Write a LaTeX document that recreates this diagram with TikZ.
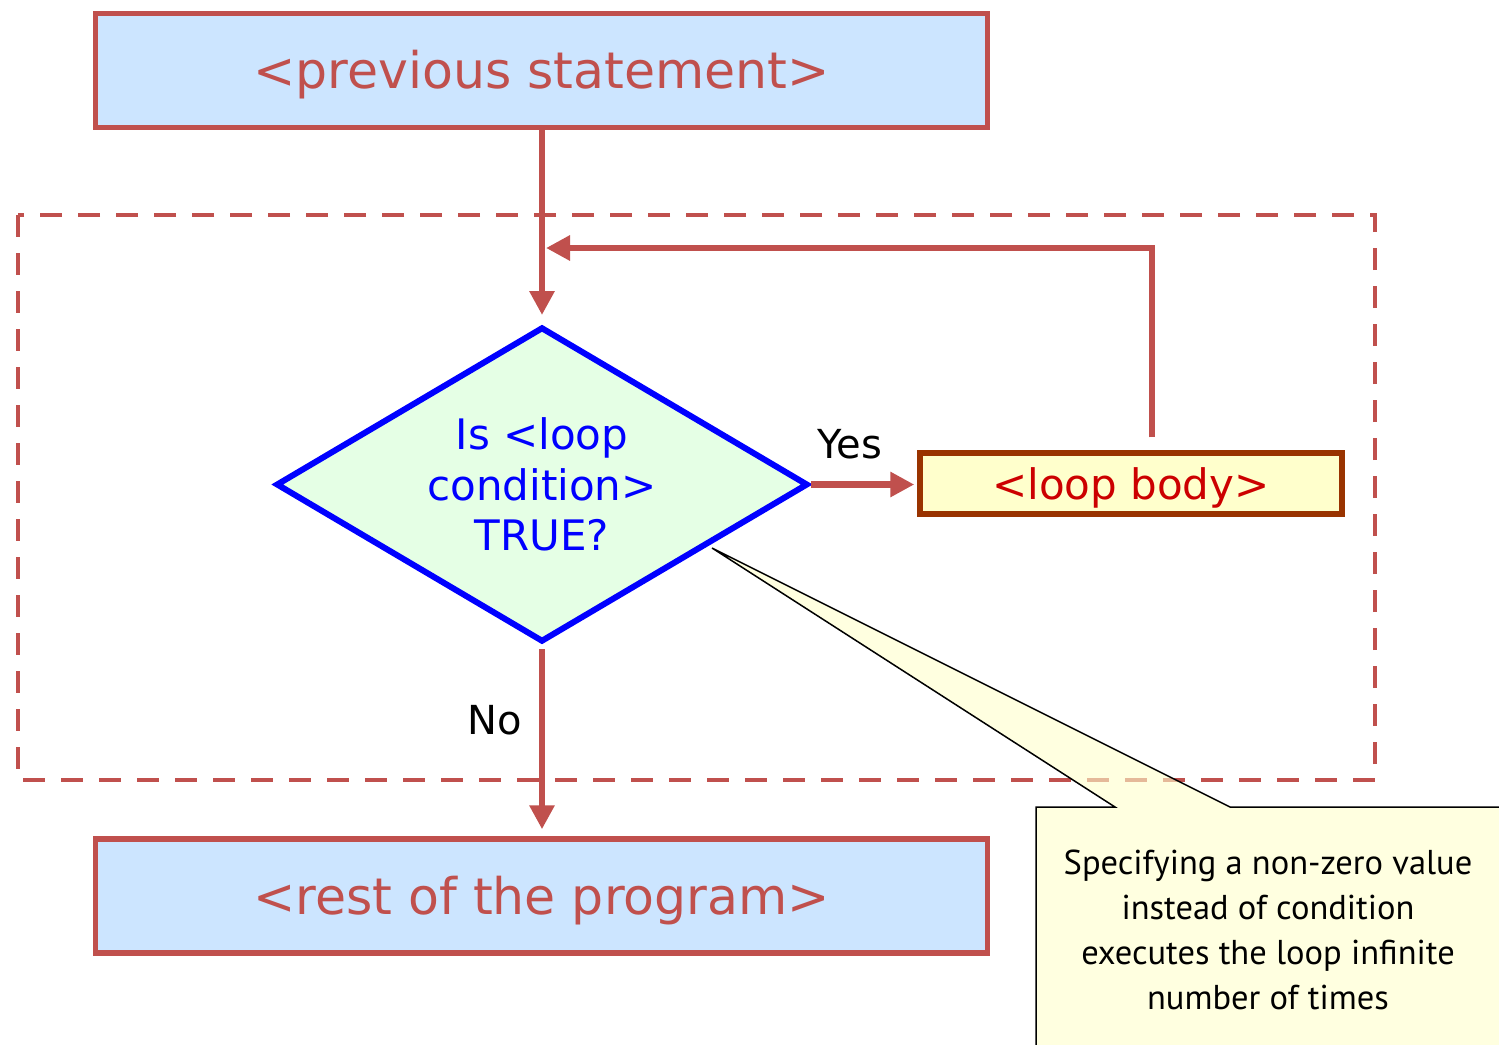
\documentclass[tikz,border=0pt]{standalone}
\usepackage{fontspec}
\setmainfont{DejaVu Sans}
\newfontfamily\notefont{PT Sans}
\usetikzlibrary{shapes.geometric,arrows.meta}

\definecolor{edgered}{HTML}{C0504D}
\definecolor{boxblue}{HTML}{CCE5FF}
\definecolor{diafill}{HTML}{E5FFE5}
\definecolor{diablue}{HTML}{0000FF}
\definecolor{bodyfill}{HTML}{FFFFCC}
\definecolor{bodyedge}{HTML}{993300}
\definecolor{bodytext}{HTML}{CC0000}
\definecolor{notefill}{HTML}{FFFFCC}

\tikzset{
  stmtbox/.style={draw=edgered, line width=5.5pt, fill=boxblue, rectangle,
    minimum width=892pt, minimum height=114pt, inner sep=0pt,
    text height=45pt, text depth=9pt,
    text=edgered, font=\fontsize{50.5}{60}\selectfont},
  decision/.style={draw=diablue, line width=6pt, fill=diafill, diamond,
    shape aspect=1.69, minimum width=532pt, minimum height=315pt, inner sep=0pt,
    text=diablue, align=center, font=\fontsize{42}{50.5}\selectfont},
  bodybox/.style={draw=bodyedge, line width=5.5pt, fill=bodyfill, rectangle,
    minimum width=422pt, minimum height=61pt, inner sep=0pt,
    text height=37pt, text depth=5pt,
    text=bodytext, font=\fontsize{42}{50}\selectfont},
  flow/.style={draw=edgered, line width=6.5pt,
    -{Triangle[length=24pt,width=24pt]}},
  answer/.style={font=\fontsize{40}{48}\selectfont, text=black},
  looparea/.style={draw=edgered, line width=4.5pt, dash pattern=on 22pt off 16pt},
  callout/.style={draw=black, line width=1.5pt, fill=notefill, fill opacity=0.6},
  notetext/.style={font=\notefont\fontsize{34.5}{45}\selectfont, align=center,
    text=black}
}

\begin{document}
\begin{tikzpicture}[x=1pt,y=-1pt]
  \useasboundingbox (0,0) rectangle (1499,1044);

  % region enclosing the loop
  \draw[looparea] (18,215) rectangle (1375,780);

  % statements and loop parts
  \node[stmtbox] (prev) at (541.5,70.5) {<previous statement>};
  \node[decision] (dec) at (542,484.5) {Is <loop\\condition>\\TRUE?};
  \node[bodybox] (body) at (1131,483.5) {<loop body>};
  \node[stmtbox] (rest) at (541.5,896) {<rest of the program>};

  % control flow
  \coordinate (join) at (546,248);
  \draw[flow, shorten >=9pt] (prev.south -| dec.north) -- (dec.north);
  \draw[flow] ([xshift=21pt,yshift=13pt]body.north) |- (join);
  \draw[flow, shorten >=3pt] (dec.east) -- (dec.east -| body.west);
  \draw[flow, shorten >=7pt, shorten <=4pt] (dec.south) -- (dec.south |- rest.north);

  \node[answer] (yes) at (850,444) {Yes};
  \node[answer] (no) at (495,720) {No};

  % note balloon pointing at the decision
  \coordinate (tip) at (712,548);
  \begin{scope}
    \clip (0,0) rectangle (1499,1044);
    \path[callout] (1036,1070) -- (1036,807) -- (1115,807) -- (tip)
      -- (1230,807) -- (1520,807) -- (1520,1070) -- cycle;
  \end{scope}
  \node[notetext] (note) at (1268,930)
    {Specifying a non-zero value\\instead of condition\\executes the loop infinite\\number of times};
\end{tikzpicture}
\end{document}
